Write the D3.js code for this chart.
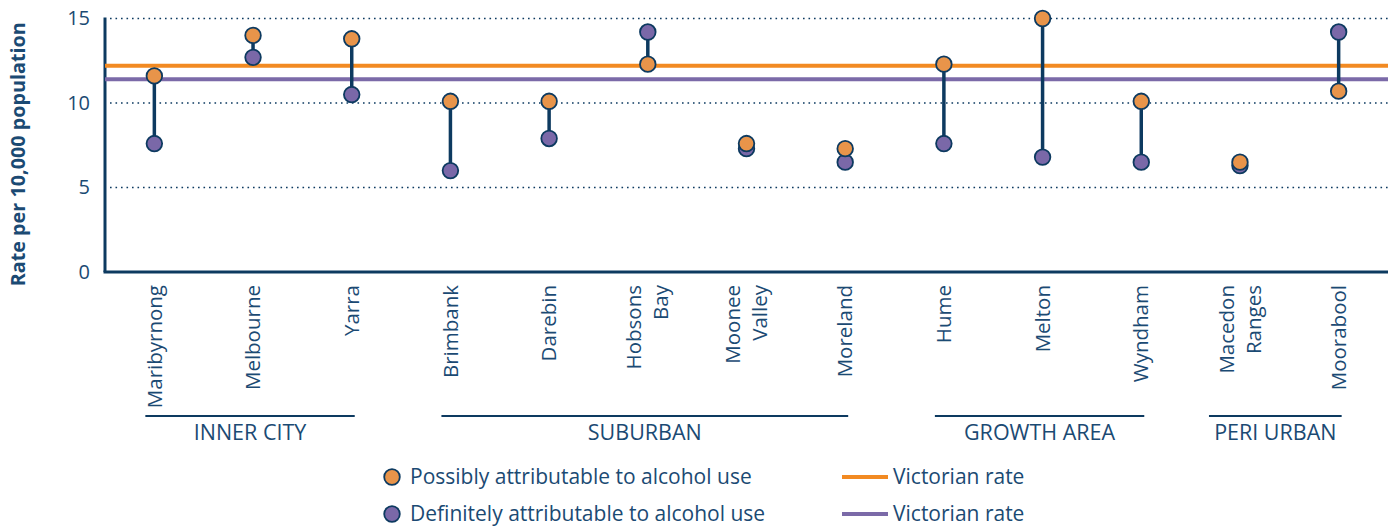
<!DOCTYPE html>
<html>
<head>
<meta charset="utf-8">
<script src="https://cdn.jsdelivr.net/npm/d3@7"></script>
<style>
  body { margin: 0; background: #fff; }
  svg { display: block; }
</style>
</head>
<body>
<svg id="drawing_region"></svg>
<script>
// chart data
const categories = ["Maribyrnong", "Melbourne", "Yarra", "Brimbank", "Darebin", "Hobsons Bay",
    "Moonee Valley", "Moreland", "Hume", "Melton", "Wyndham", "Macedon Ranges", "Moorabool"];
const groups = ["INNER CITY", "INNER CITY", "INNER CITY", "SUBURBAN", "SUBURBAN", "SUBURBAN",
    "SUBURBAN", "SUBURBAN", "GROWTH AREA", "GROWTH AREA", "GROWTH AREA", "PERI URBAN", "PERI URBAN"];
const possibly = [11.6, 14.0, 13.8, 10.1, 10.1, 12.3, 7.6, 7.3, 12.3, 15.0, 10.1, 6.5, 10.7];
const definitely = [7.6, 12.7, 10.5, 6.0, 7.9, 14.2, 7.3, 6.5, 7.6, 6.8, 6.5, 6.3, 14.2];
const victorianPossibly = 12.2;
const victorianDefinitely = 11.4;
const yTicks = [0, 5, 10, 15];
const legendDots = ["Possibly attributable to alcohol use", "Definitely attributable to alcohol use"];
const legendLines = ["Victorian rate", "Victorian rate"];

const config = {
    width: 1396,
    height: 526,
    margin: {top: 18.5, right: 8, bottom: 254, left: 105}
};

const navy = '#0d3a60';
const textColor = '#1b4a73';
const orangeDot = '#e8944a';
const purpleDot = '#7a68a8';
const orangeLine = '#f28a22';
const purpleLine = '#7b6aa8';
const mainFont = '"Open Sans", sans-serif';

const svg = d3.select('#drawing_region')
    .attr('width', config.width)
    .attr('height', config.height);

const x0 = config.margin.left;
const x1 = config.width - config.margin.right;
const y0 = config.height - config.margin.bottom;
const y1 = config.margin.top;

const xscale = d3.scaleBand()
    .domain(categories)
    .range([x0, x1]);
const cx = d => xscale(d) + xscale.bandwidth() / 2;

const yscale = d3.scaleLinear()
    .domain([0, 15])
    .range([y0, y1]);

// gridlines (dotted)
svg.append('g')
    .selectAll('line')
    .data(yTicks.filter(t => t > 0))
    .join('line')
    .attr('x1', x0 + 5)
    .attr('x2', x1)
    .attr('y1', d => yscale(d))
    .attr('y2', d => yscale(d))
    .attr('stroke', navy)
    .attr('stroke-width', 1.6)
    .attr('stroke-dasharray', '1.6,3.9');

// y tick labels
const yaxis = d3.axisLeft(yscale)
    .tickValues(yTicks)
    .tickSize(0)
    .tickPadding(15);
const yaxis_group = svg.append('g')
    .attr('transform', `translate(${x0}, 0)`)
    .call(yaxis);
yaxis_group.select('.domain').remove();
yaxis_group.selectAll('text')
    .attr('font-family', mainFont)
    .attr('font-size', 20)
    .attr('fill', textColor);

// axis lines
svg.append('line')
    .attr('x1', x0).attr('x2', x0)
    .attr('y1', y1 - 1).attr('y2', y0)
    .attr('stroke', navy).attr('stroke-width', 3);
svg.append('line')
    .attr('x1', x0 - 1.5).attr('x2', x1)
    .attr('y1', y0).attr('y2', y0)
    .attr('stroke', navy).attr('stroke-width', 3);

// y title
svg.append('text')
    .attr('transform', `translate(25, ${(y0 + y1) / 2 + 9}) rotate(-90)`)
    .attr('text-anchor', 'middle')
    .attr('font-family', mainFont)
    .attr('font-weight', 'bold')
    .attr('font-size', 19.8)
    .attr('fill', textColor)
    .text('Rate per 10,000 population');

// Victorian rate lines
svg.append('line')
    .attr('x1', x0).attr('x2', x1)
    .attr('y1', yscale(victorianPossibly)).attr('y2', yscale(victorianPossibly))
    .attr('stroke', orangeLine).attr('stroke-width', 4);
svg.append('line')
    .attr('x1', x0).attr('x2', x1)
    .attr('y1', yscale(victorianDefinitely)).attr('y2', yscale(victorianDefinitely))
    .attr('stroke', purpleLine).attr('stroke-width', 4);

// dumbbells
const rows = categories.map((c, i) => ({label: c, group: groups[i], p: possibly[i], d: definitely[i]}));

svg.append('g')
    .selectAll('line')
    .data(rows)
    .join('line')
    .attr('x1', d => cx(d.label))
    .attr('x2', d => cx(d.label))
    .attr('y1', d => yscale(d.p))
    .attr('y2', d => yscale(d.d))
    .attr('stroke', navy)
    .attr('stroke-width', 3.5);

svg.append('g')
    .selectAll('circle')
    .data(rows)
    .join('circle')
    .attr('cx', d => cx(d.label))
    .attr('cy', d => yscale(d.d))
    .attr('r', 7.8)
    .attr('fill', purpleDot)
    .attr('stroke', navy)
    .attr('stroke-width', 1.8);

svg.append('g')
    .selectAll('circle')
    .data(rows)
    .join('circle')
    .attr('cx', d => cx(d.label))
    .attr('cy', d => yscale(d.p))
    .attr('r', 7.8)
    .attr('fill', orangeDot)
    .attr('stroke', navy)
    .attr('stroke-width', 1.8);

// category labels (rotated, split into lines)
const lineGap = 27;
const labels = svg.append('g')
    .selectAll('text')
    .data(rows)
    .join('text')
    .attr('transform', d => `translate(${cx(d.label)}, ${y0 + 13}) rotate(-90)`)
    .attr('text-anchor', 'end')
    .attr('font-family', mainFont)
    .attr('font-size', 20.5)
    .attr('fill', textColor);
labels.each(function (d) {
    const parts = d.label.split(' ');
    const t = d3.select(this);
    parts.forEach((p, i) => {
        t.append('tspan')
            .attr('x', 0)
            .attr('y', (i - (parts.length - 1) / 2) * lineGap)
            .attr('dy', '0.35em')
            .text(p);
    });
});

// group brackets
const groupNames = Array.from(new Set(groups));
const groupY = 416;
groupNames.forEach(g => {
    const members = rows.filter(r => r.group === g);
    const first = members[0], last = members[members.length - 1];
    const extra = (first.label.split(' ').length - 1) * 22;
    const gx1 = cx(first.label) - 9 - extra;
    const gx2 = cx(last.label) + 3;
    svg.append('line')
        .attr('x1', gx1).attr('x2', gx2)
        .attr('y1', groupY).attr('y2', groupY)
        .attr('stroke', navy).attr('stroke-width', 2);
    svg.append('text')
        .attr('x', (gx1 + gx2) / 2)
        .attr('y', groupY + 24)
        .attr('text-anchor', 'middle')
        .attr('font-family', mainFont)
        .attr('font-size', 21.5)
        .attr('fill', textColor)
        .text(g);
});

// legend
const legendY = [477, 514];
const dotColors = [orangeDot, purpleDot];
const lineColors = [orangeLine, purpleLine];
legendDots.forEach((t, i) => {
    svg.append('circle')
        .attr('cx', 392).attr('cy', legendY[i])
        .attr('r', 7.8)
        .attr('fill', dotColors[i])
        .attr('stroke', navy)
        .attr('stroke-width', 1.8);
    svg.append('text')
        .attr('x', 410).attr('y', legendY[i])
        .attr('dy', '0.35em')
        .attr('font-family', mainFont)
        .attr('font-size', 21)
        .attr('fill', textColor)
        .text(t);
});
legendLines.forEach((t, i) => {
    svg.append('line')
        .attr('x1', 842).attr('x2', 888)
        .attr('y1', legendY[i]).attr('y2', legendY[i])
        .attr('stroke', lineColors[i])
        .attr('stroke-width', 4);
    svg.append('text')
        .attr('x', 893).attr('y', legendY[i])
        .attr('dy', '0.35em')
        .attr('font-family', mainFont)
        .attr('font-size', 21)
        .attr('fill', textColor)
        .text(t);
});
</script>
</body>
</html>
